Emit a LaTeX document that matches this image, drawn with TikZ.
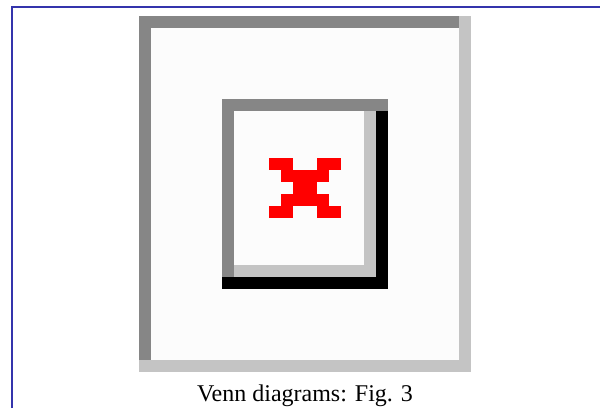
\documentclass[tikz,border=0pt]{standalone}
\usepackage{xcolor}
\usepackage{tikz}
\usepackage{fontspec}
\setmainfont{Liberation Serif}
\definecolor{framecolor}{RGB}{52, 52, 172}
\definecolor{darkedge}{RGB}{134, 134, 134}
\definecolor{lightedge}{RGB}{196, 196, 196}
\definecolor{paper}{RGB}{252, 252, 252}
\definecolor{crossred}{RGB}{255, 0, 0}

\begin{document}
\begin{tikzpicture}[
  x=1pt, y=-1pt,
  frameline/.style={draw=framecolor, line width=1.2pt},
  darkfill/.style={fill=darkedge},
  lightfill/.style={fill=lightedge},
  paperfill/.style={fill=paper},
  cell/.style={fill=crossred},
  caption/.style={anchor=base, font=\fontsize{24}{28}\selectfont}
]
  \useasboundingbox (0,0) rectangle (600,408);
  \coordinate (fa) at (12,408);
  \coordinate (fb) at (12,7);
  \coordinate (fc) at (600,7);
  \draw[frameline] (fa) -- (fb) -- (fc);

  \fill[lightfill] (139,16) rectangle (471,372);
  \fill[darkfill] (139,16) rectangle (459,360);
  \fill[paperfill] (151,28) rectangle (459,360);

  \fill[black] (222,99) rectangle (388,289);
  \fill[darkfill] (222,99) rectangle (376,277);
  \fill[darkfill] (376,99) rectangle (388,111);
  \fill[lightfill] (234,111) rectangle (376,277);
  \fill[paperfill] (234,111) rectangle (364,265);

  \foreach \row/\cols in {0/{0,1,4,5}, 1/{1,2,3,4}, 2/{2,3}, 3/{1,2,3,4}, 4/{0,1,4,5}} {
    \foreach \col in \cols {
      \fill[cell] ({269+12*\col},{158+12*\row}) rectangle ++(12,12);
    }
  }

  \node[caption] (label) at (305,401) {Venn diagrams: Fig. 3};
\end{tikzpicture}
\end{document}
